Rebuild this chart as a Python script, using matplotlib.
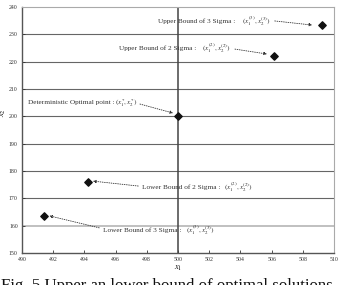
import matplotlib
matplotlib.use("Agg")
import matplotlib.pyplot as plt

plt.rcParams['font.family'] = ['Liberation Serif', 'DejaVu Serif']
plt.rcParams['mathtext.fontset'] = 'stix'

labels = ["Upper Bound of 3 Sigma :", "Upper Bound of 2 Sigma :",
          "Deterministic Optimal point :", "Lower Bound of 2 Sigma :",
          "Lower Bound of 3 Sigma :"]
symbols = [r"$(x_1^{(3)}, x_2^{(3)})$", r"$(x_1^{(2)}, x_2^{(2)})$",
           r"$(x_1^{*}, x_2^{*})$", r"$(x_1^{(2)}, x_2^{(2)})$",
           r"$(x_1^{(3)}, x_2^{(3)})$"]
x1 = [509.23, 506.15, 500.0, 494.21, 491.39]
x2 = [233.4, 222.2, 200.0, 176.1, 163.6]
# label / symbol anchor positions (data)
label_x = [498.72, 496.22, 490.38, 497.70, 495.17]
label_y = [234.9, 225.0, 204.9, 174.1, 158.4]
sym_x = [504.10, 501.54, 495.96, 502.95, 500.51]
# arrow start and end (data)
arr_x0 = [506.2, 503.65, 497.56, 497.45, 494.95]
arr_y0 = [234.9, 224.6, 204.5, 174.5, 159.2]
arr_x1 = [508.6, 505.7, 499.68, 494.55, 491.75]
arr_y1 = [233.4, 222.8, 201.2, 176.3, 163.6]
xticks = [490, 492, 494, 496, 498, 500, 502, 504, 506, 508, 510]
yticks = [150, 160, 170, 180, 190, 200, 210, 220, 230, 240]
caption = "Fig. 5 Upper an lower bound of optimal solutions"

fig = plt.figure(figsize=(3.4, 2.85), dpi=100)
ax = fig.add_axes([0.0647, 0.1123, 0.9177, 0.8631])
ax.set_xlim(490, 510)
ax.set_ylim(150, 240)
ax.set_xticks(xticks)
ax.set_yticks(yticks)
ax.tick_params(labelsize=4.2, direction='in', length=2, width=0.6, pad=3, colors='#333333')
for yv in yticks[1:-1]:
    if yv == 160:
        ax.axhline(yv, color='#bbbbbb', lw=1.3, zorder=1)
    else:
        ax.axhline(yv, color='#666666', lw=0.8, zorder=1)
ax.axvline(500, color='#444444', lw=1.1, zorder=2)
ax.spines['left'].set_color('#555555')
ax.spines['left'].set_linewidth(1.0)
ax.spines['bottom'].set_color('#555555')
ax.spines['bottom'].set_linewidth(1.0)
ax.spines['top'].set_color('#aaaaaa')
ax.spines['right'].set_color('#aaaaaa')

ax.scatter(x1, x2, marker='D', s=14, color='#111111', zorder=5)

for i in range(len(labels)):
    ax.text(label_x[i], label_y[i], labels[i], fontsize=5.2,
            va='center', ha='left', color='#333333')
    ax.text(sym_x[i], label_y[i], symbols[i], fontsize=5.2,
            va='center', ha='left', color='#333333')
    ax.annotate("", xy=(arr_x1[i], arr_y1[i]), xytext=(arr_x0[i], arr_y0[i]),
                arrowprops=dict(arrowstyle='-|>', linestyle=':', lw=0.6,
                                color='#333333', mutation_scale=4,
                                shrinkA=0, shrinkB=0))

ax.set_xlabel(r"$x_1$", fontsize=6, labelpad=1)
ax.set_ylabel(r"$x_2$", fontsize=6)
ax.yaxis.set_label_coords(-0.045, 0.57)

fig.text(0.003, (285 - 278.5) / 285, caption,
         fontsize=12.1, va='top', ha='left', color='#111111')

fig.savefig("out.png", dpi=100)
